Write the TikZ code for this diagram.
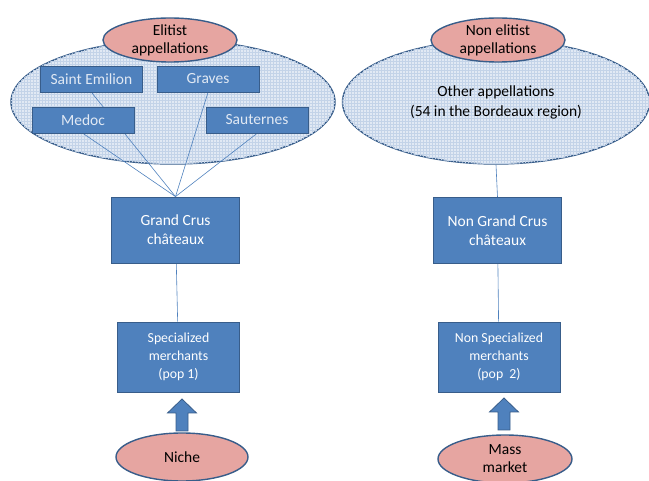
\documentclass[tikz,border=0pt]{standalone}
\usepackage{fontspec}
\setmainfont{Carlito}
\usepackage{tikz}
\usetikzlibrary{shapes,arrows,positioning,calc,patterns}
\pgfdeclarelayer{back}
\pgfdeclarelayer{wires}
\pgfsetlayers{back,wires,main}
\definecolor{boxblue}{HTML}{4F81BD}
\definecolor{edgeblue}{HTML}{385D8A}
\definecolor{paleblue}{HTML}{E1E9F4}
\definecolor{gridblue}{HTML}{C3D3E8}
\definecolor{rosefill}{HTML}{E6A5A1}

\begin{document}
\begin{tikzpicture}[x=1pt,y=-1pt,
  box/.style={draw=edgeblue, line width=0.8pt, fill=boxblue, text=white, inner sep=0pt, align=center, font=\fontsize{15.5}{19}\selectfont},
  app/.style={box, minimum width=102pt, minimum height=26pt, text=paleblue},
  chateau/.style={box, minimum width=128pt, minimum height=66pt},
  merch/.style={box, minimum width=122pt, minimum height=70pt, font=\fontsize{13.8}{18}\selectfont},
  tag/.style={ellipse, draw=edgeblue, line width=1.4pt, fill=rosefill, inner sep=-8pt, align=center, font=\fontsize{15.5}{18}\selectfont},
  field/.style={ellipse, draw=edgeblue, line width=1.4pt, fill=paleblue, postaction={pattern=grid, pattern color=gridblue}, inner sep=0pt, align=center, font=\fontsize{15.5}{20}\selectfont},
  wire/.style={draw=boxblue, line width=0.6pt},
  push/.style={draw=edgeblue, line width=0.8pt, fill=boxblue, line join=miter}]

\useasboundingbox (0,0) rectangle (649,481);

% left side
\begin{pgfonlayer}{back}
\node[field, minimum width=324pt, minimum height=124pt] (elf) at (173,102) {};
\node[field, minimum width=307pt, minimum height=124pt] (oth) at (496,102) {Other appellations\\(54 in the Bordeaux region)};
\end{pgfonlayer}

\node[tag, minimum width=134pt, minimum height=44pt] (elit) at (170,40) {Elitist\\appellations};
\node[app] (se) at (91.5,79) {Saint Emilion};
\node[app] (gr) at (208,79) {Graves};
\node[app] (me) at (83,120) {Medoc};
\node[app] (sa) at (257,120) {Sauternes};

\node[chateau] (gc) at (175.5,230) {Grand Crus\\ch\^ateaux};
\node[merch] (sm) at (178.5,357) {Specialized\\merchants\\(pop 1)};
\coordinate (up1) at (182,415);
\node[tag, minimum width=132pt, minimum height=48pt] (niche) at (182,457) {Niche};

% right side
\node[tag, minimum width=134pt, minimum height=44pt] (nonel) at (498,40) {Non elitist\\appellations};
\node[chateau] (ngc) at (497.5,230.5) {Non Grand Crus\\ch\^ateaux};
\node[merch] (nsm) at (499,357) {Non Specialized\\merchants\\(pop~~2)};
\coordinate (up2) at (504,414);
\node[tag, minimum width=134pt, minimum height=48pt] (mass) at (505,459) {Mass\\market};

% block arrows
\foreach \p in {up1,up2}
  \draw[push] ($(\p)+(-6,16)$) -- ++(0,-18) -- ++(-8.5,0) -- ++(14.5,-14)
    -- ++(14.5,14) -- ++(-8.5,0) -- ++(0,18) -- cycle;

\begin{pgfonlayer}{wires}
\foreach \a in {se,gr,me,sa}
  \draw[wire] (\a.south)--(gc.north);
\draw[wire] (gc)--(sm);
\draw[wire] (oth.south)--(ngc.north);
\draw[wire] (ngc)--(nsm);
\end{pgfonlayer}
\end{tikzpicture}
\end{document}
